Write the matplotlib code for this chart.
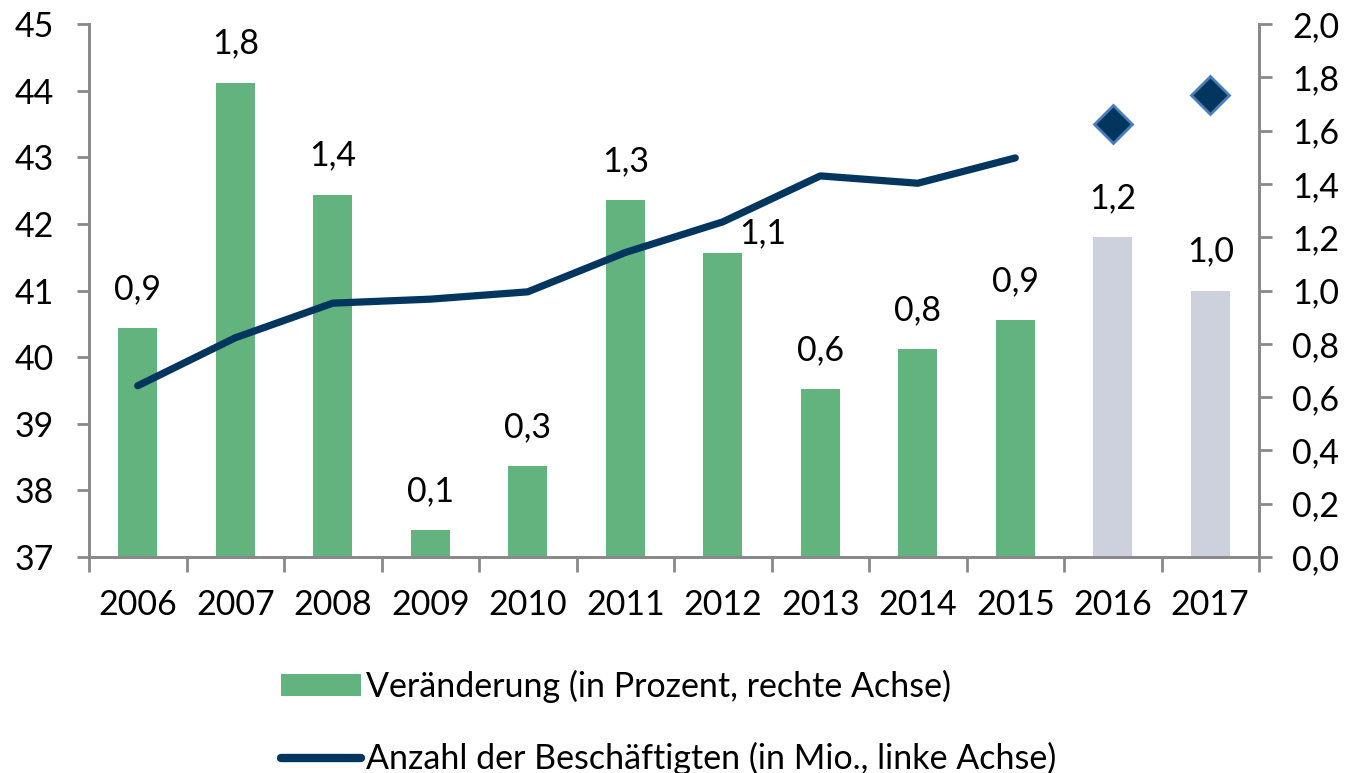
import matplotlib.pyplot as plt
from matplotlib.ticker import FuncFormatter, MultipleLocator
from matplotlib.patches import Patch
from matplotlib.lines import Line2D

plt.rcParams['font.family'] = ['Lato', 'DejaVu Sans']

# Data
years = ['2006', '2007', '2008', '2009', '2010', '2011', '2012', '2013', '2014', '2015', '2016', '2017']
change_pct = [0.86, 1.78, 1.36, 0.10, 0.34, 1.34, 1.14, 0.63, 0.78, 0.89, 1.20, 1.00]
change_labels = ['0,9', '1,8', '1,4', '0,1', '0,3', '1,3', '1,1', '0,6', '0,8', '0,9', '1,2', '1,0']
employed_years = ['2006', '2007', '2008', '2009', '2010', '2011', '2012', '2013', '2014', '2015']
employed = [39.57, 40.29, 40.81, 40.87, 40.98, 41.57, 42.03, 42.72, 42.61, 42.99]
forecast_years = ['2016', '2017']
forecast = [43.50, 43.93]

green = '#62b37d'
grey_bar = '#cdd1de'
navy = '#03365f'
axis_col = '#898989'
fs = 24.5

fig = plt.figure(figsize=(13.49, 7.73), dpi=100)
ax = fig.add_axes([89 / 1349, 1 - 557 / 773, (1259 - 89) / 1349, (557 - 24) / 773])
ax2 = ax.twinx()

xpos = list(range(len(years)))
bar_colors = [green if i < 10 else grey_bar for i in range(len(years))]
ax2.bar(xpos, change_pct, width=0.4, color=bar_colors)

for i, (v, lab) in enumerate(zip(change_pct, change_labels)):
    if years[i] == '2012':
        # Excel moved this label aside of the line
        ax2.annotate(lab, (i, v), xytext=(29, 14), textcoords='offset points',
                     ha='center', va='center', fontsize=fs)
    else:
        ax2.annotate(lab, (i, v), xytext=(0, 28), textcoords='offset points',
                     ha='center', va='center', fontsize=fs)

line_x = [years.index(y) for y in employed_years]
ax.plot(line_x, employed, color=navy, lw=5.2, solid_capstyle='round', solid_joinstyle='round')
fc_x = [years.index(y) for y in forecast_years]
ax.plot(fc_x, forecast, linestyle='none', marker='D', ms=19, mfc=navy, mec='#4a7ebb', mew=2)

ax.set_zorder(ax2.get_zorder() + 1)
ax.patch.set_visible(False)

ax.set_xlim(-0.5, len(years) - 0.5)
ax.set_ylim(37, 45)
ax2.set_ylim(0, 2.0)
ax.yaxis.set_major_locator(MultipleLocator(1))
ax2.yaxis.set_major_locator(MultipleLocator(0.2))
ax2.yaxis.set_major_formatter(FuncFormatter(lambda v, p: f"{v:.1f}".replace('.', ',')))

ax.set_xticks([i - 0.5 for i in range(len(years) + 1)])
ax.set_xticklabels([])
ax.set_xticks(xpos, minor=True)
ax.set_xticklabels(years, minor=True)
ax.tick_params(axis='x', which='major', length=11, width=2, color=axis_col, direction='out')
ax.tick_params(axis='x', which='minor', length=0, pad=23, labelsize=fs)
ax.tick_params(axis='y', length=9, width=2, color=axis_col, pad=16, labelsize=fs)
ax2.tick_params(axis='y', length=9, width=2, color=axis_col, pad=15, labelsize=fs)

for a in (ax, ax2):
    a.spines['top'].set_visible(False)
    for s in ('left', 'right', 'bottom'):
        a.spines[s].set_color(axis_col)
        a.spines[s].set_linewidth(2)

handles = [Patch(facecolor=green, edgecolor='none'),
           Line2D([], [], color=navy, lw=6, solid_capstyle='round')]
labels = ['Veränderung (in Prozent, rechte Achse)', 'Anzahl der Beschäftigten (in Mio., linke Achse)']
fig.legend(handles, labels, loc='upper left', bbox_to_anchor=(281 / 1349, 1 - 670 / 773),
           frameon=False, fontsize=fs, handlelength=2.35, handleheight=0.62,
           handletextpad=0.15, labelspacing=1.15, borderpad=0, borderaxespad=0)

fig.savefig('out.png', dpi=100)
